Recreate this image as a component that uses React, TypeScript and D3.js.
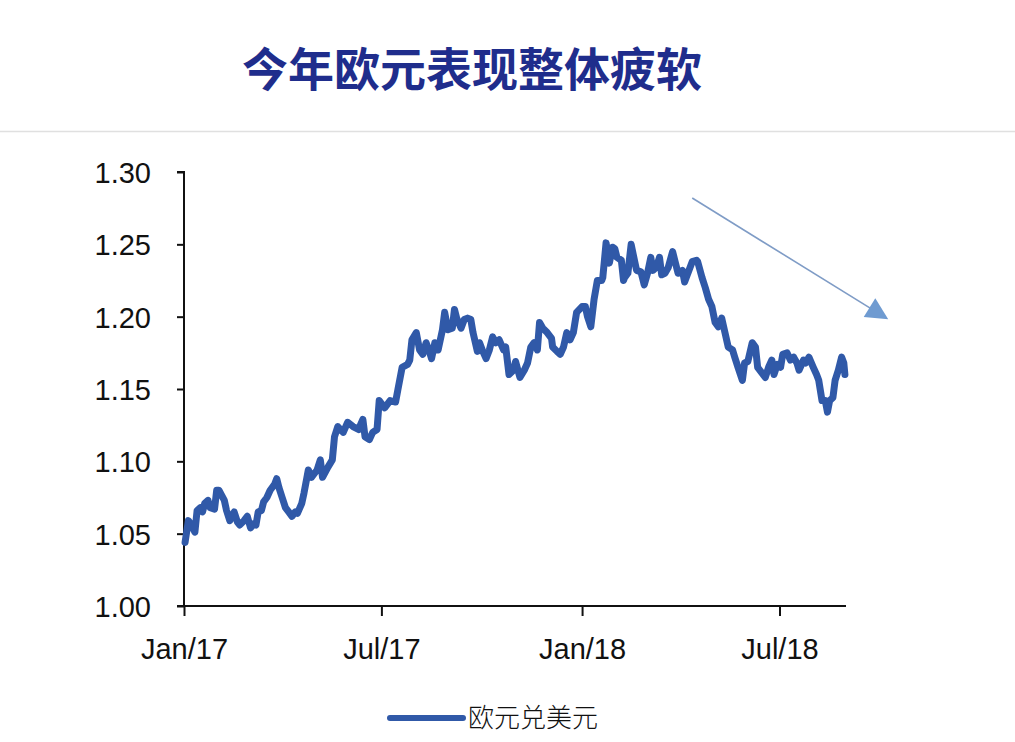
import React, { useEffect, useRef } from "react";
import * as d3 from "d3";

const title = "今年欧元表现整体疲软";
const seriesName = "欧元兑美元";
const yTicks = [1.0, 1.05, 1.1, 1.15, 1.2, 1.25, 1.3];
const xTickDates = ["2017-01-01", "2017-07-01", "2018-01-01", "2018-07-01"];
const xTickLabels = ["Jan/17", "Jul/17", "Jan/18", "Jul/18"];
const xDomain = ["2017-01-01", "2018-08-31"];
const yDomain = [1.0, 1.3];
const arrowFrom = { date: "2018-04-12", value: 1.282 };
const arrowTo = { date: "2018-10-07", value: 1.199 };

const dates = [
  "2017-01-02","2017-01-05","2017-01-07","2017-01-11","2017-01-13","2017-01-16","2017-01-18","2017-01-20","2017-01-23","2017-01-25",
  "2017-01-29","2017-01-31","2017-02-02","2017-02-07","2017-02-09","2017-02-12","2017-02-16","2017-02-19","2017-02-21","2017-02-25",
  "2017-02-28","2017-03-03","2017-03-06","2017-03-08","2017-03-10","2017-03-13","2017-03-15","2017-03-18","2017-03-21","2017-03-25",
  "2017-03-27","2017-03-29","2017-04-01","2017-04-04","2017-04-07","2017-04-10","2017-04-13","2017-04-15","2017-04-19","2017-04-21",
  "2017-04-25","2017-04-28","2017-05-03","2017-05-06","2017-05-08","2017-05-13","2017-05-17","2017-05-19","2017-05-22","2017-05-27",
  "2017-05-31","2017-06-05","2017-06-10","2017-06-14","2017-06-16","2017-06-20","2017-06-23","2017-06-27","2017-06-29","2017-07-04",
  "2017-07-09","2017-07-14","2017-07-16","2017-07-20","2017-07-25","2017-07-27","2017-07-29","2017-08-02","2017-08-05","2017-08-08",
  "2017-08-11","2017-08-14","2017-08-16","2017-08-19","2017-08-22","2017-08-26","2017-08-28","2017-08-31","2017-09-04","2017-09-06",
  "2017-09-08","2017-09-12","2017-09-15","2017-09-18","2017-09-21","2017-09-23","2017-09-27","2017-09-29","2017-10-02","2017-10-05",
  "2017-10-08","2017-10-11","2017-10-14","2017-10-17","2017-10-21","2017-10-23","2017-10-26","2017-10-30","2017-11-01","2017-11-05",
  "2017-11-09","2017-11-12","2017-11-15","2017-11-18","2017-11-21","2017-11-23","2017-11-26","2017-11-30","2017-12-04","2017-12-05",
  "2017-12-09","2017-12-12","2017-12-15","2017-12-18","2017-12-21","2017-12-24","2017-12-27","2018-01-01","2018-01-04","2018-01-06",
  "2018-01-09","2018-01-12","2018-01-15","2018-01-19","2018-01-20","2018-01-23","2018-01-26","2018-01-29","2018-01-31","2018-02-02",
  "2018-02-06","2018-02-08","2018-02-09","2018-02-12","2018-02-15","2018-02-18","2018-02-20","2018-02-24","2018-02-27","2018-03-02",
  "2018-03-05","2018-03-07","2018-03-10","2018-03-13","2018-03-15","2018-03-18","2018-03-21","2018-03-25","2018-03-27","2018-03-30",
  "2018-04-03","2018-04-05","2018-04-08","2018-04-12","2018-04-16","2018-04-17","2018-04-21","2018-04-24","2018-04-27","2018-04-30",
  "2018-05-03","2018-05-06","2018-05-09","2018-05-12","2018-05-15","2018-05-19","2018-05-21","2018-05-24","2018-05-28","2018-05-30",
  "2018-06-02","2018-06-06","2018-06-09","2018-06-11","2018-06-15","2018-06-18","2018-06-21","2018-06-24","2018-06-26","2018-06-29",
  "2018-07-02","2018-07-04","2018-07-08","2018-07-11","2018-07-14","2018-07-17","2018-07-19","2018-07-23","2018-07-25","2018-07-28",
  "2018-08-01","2018-08-04","2018-08-06","2018-08-09","2018-08-12","2018-08-14","2018-08-16","2018-08-19","2018-08-21","2018-08-24",
  "2018-08-27","2018-08-29","2018-08-30"
];

const eurusd = [
  1.044,1.059,1.057,1.051,1.066,1.068,1.065,1.071,1.073,1.068,
  1.067,1.080,1.080,1.073,1.066,1.059,1.065,1.058,1.056,1.059,
  1.062,1.054,1.057,1.056,1.065,1.066,1.072,1.075,1.080,1.084,
  1.088,1.082,1.075,1.068,1.065,1.062,1.065,1.064,1.071,1.078,
  1.094,1.089,1.094,1.101,1.089,1.096,1.101,1.117,1.124,1.120,
  1.127,1.124,1.122,1.129,1.117,1.115,1.120,1.122,1.142,1.137,
  1.142,1.141,1.149,1.165,1.167,1.170,1.184,1.189,1.177,1.174,
  1.182,1.176,1.171,1.182,1.177,1.191,1.203,1.191,1.192,1.205,
  1.199,1.192,1.198,1.199,1.198,1.189,1.176,1.182,1.176,1.171,
  1.177,1.186,1.182,1.184,1.177,1.179,1.160,1.163,1.169,1.158,
  1.163,1.168,1.179,1.182,1.177,1.196,1.192,1.189,1.185,1.179,
  1.176,1.174,1.179,1.189,1.184,1.189,1.203,1.207,1.207,1.200,
  1.193,1.212,1.225,1.225,1.227,1.251,1.237,1.248,1.247,1.241,
  1.239,1.225,1.227,1.230,1.250,1.239,1.232,1.231,1.222,1.230,
  1.241,1.232,1.234,1.241,1.229,1.230,1.234,1.245,1.239,1.230,
  1.232,1.224,1.230,1.238,1.239,1.238,1.227,1.220,1.212,1.207,
  1.196,1.193,1.199,1.189,1.179,1.177,1.172,1.165,1.156,1.168,
  1.169,1.182,1.179,1.165,1.161,1.158,1.165,1.170,1.160,1.167,
  1.165,1.174,1.175,1.170,1.172,1.168,1.163,1.170,1.168,1.172,
  1.165,1.160,1.156,1.142,1.142,1.134,1.142,1.144,1.156,1.163,
  1.172,1.168,1.160
];

const W = 1015;
const H = 742;
const M = { left: 184, right: 846, top: 172, bottom: 606 };
const LINE_COLOR = "#3059a8";
const TITLE_COLOR = "#1f2d8c";
const AXIS_FONT = "'Liberation Sans Narrow', 'Liberation Sans', Arial, sans-serif";

export default function App() {
  const ref = useRef<SVGSVGElement | null>(null);

  useEffect(() => {
    document.body.style.margin = "0";
    const svg = d3.select(ref.current);
    svg.selectAll("*").remove();
    const parse = d3.timeParse("%Y-%m-%d");

    const x = d3.scaleTime()
      .domain(xDomain.map((d) => parse(d) as Date))
      .range([M.left, M.right]);
    const y = d3.scaleLinear().domain(yDomain).range([M.bottom, M.top]);

    svg.append("rect").attr("width", W).attr("height", H).attr("fill", "#fff");

    // Title
    svg.append("text")
      .attr("x", 472)
      .attr("y", 86)
      .attr("text-anchor", "middle")
      .attr("font-family", "'Noto Sans CJK SC', sans-serif")
      .attr("font-weight", 700)
      .attr("font-size", 46)
      .attr("fill", TITLE_COLOR)
      .text(title);

    // separator
    svg.append("line")
      .attr("x1", 0).attr("x2", W)
      .attr("y1", 131.5).attr("y2", 131.5)
      .attr("stroke", "#e0e0e0").attr("stroke-width", 1.5);

    // Y axis
    const yAxis = d3.axisLeft(y)
      .tickValues(yTicks)
      .tickFormat((d) => d3.format(".2f")(d as number))
      .tickSize(7)
      .tickPadding(26);
    const gy = svg.append("g").attr("transform", `translate(${M.left},0)`).call(yAxis);
    gy.select(".domain").attr("stroke", "#111").attr("stroke-width", 2).attr("d", `M-7,${M.top}H0V${M.bottom}H-7`);
    gy.selectAll(".tick line").attr("stroke", "#111").attr("stroke-width", 2);
    gy.selectAll(".tick text")
      .attr("font-family", AXIS_FONT)
      .attr("font-size", 29)
      .attr("fill", "#111")
      .attr("dy", "0.36em");

    // X axis
    const xAxis = d3.axisBottom(x)
      .tickValues(xTickDates.map((d) => parse(d) as Date))
      .tickFormat((_, i) => xTickLabels[i])
      .tickSize(10)
      .tickPadding(22);
    const gx = svg.append("g").attr("transform", `translate(0,${M.bottom})`).call(xAxis);
    gx.select(".domain").attr("stroke", "#111").attr("stroke-width", 2).attr("d", `M${M.left},0H${M.right}`);
    gx.selectAll(".tick line").attr("stroke", "#111").attr("stroke-width", 2);
    gx.selectAll(".tick text")
      .attr("font-family", AXIS_FONT)
      .attr("font-size", 29)
      .attr("fill", "#111")
      .attr("dy", "0.71em");

    // Series
    const data = dates.map((d, i) => ({ date: parse(d) as Date, value: eurusd[i] }));
    const line = d3.line<{ date: Date; value: number }>()
      .x((d) => x(d.date))
      .y((d) => y(d.value))
      .curve(d3.curveLinear);
    svg.append("path")
      .datum(data)
      .attr("d", line)
      .attr("fill", "none")
      .attr("stroke", LINE_COLOR)
      .attr("stroke-width", 7)
      .attr("stroke-linejoin", "round")
      .attr("stroke-linecap", "round");

    // Annotation arrow
    const defs = svg.append("defs");
    defs.append("marker")
      .attr("id", "arrowHead")
      .attr("viewBox", "0 0 10 10")
      .attr("refX", 9)
      .attr("refY", 5)
      .attr("markerUnits", "userSpaceOnUse")
      .attr("markerWidth", 28)
      .attr("markerHeight", 22)
      .attr("orient", "auto")
      .append("path")
      .attr("d", "M0,0L10,5L0,10Z")
      .attr("fill", "#6f9bd1");
    svg.append("line")
      .attr("x1", x(parse(arrowFrom.date) as Date))
      .attr("y1", y(arrowFrom.value))
      .attr("x2", x(parse(arrowTo.date) as Date))
      .attr("y2", y(arrowTo.value))
      .attr("stroke", "#7f9cc6")
      .attr("stroke-width", 1.6)
      .attr("marker-end", "url(#arrowHead)");

    // Legend
    const lg = svg.append("g").attr("transform", "translate(390,718)");
    lg.append("line")
      .attr("x1", 0).attr("x2", 73).attr("y1", 0).attr("y2", 0)
      .attr("stroke", LINE_COLOR).attr("stroke-width", 6).attr("stroke-linecap", "round");
    lg.append("text")
      .attr("x", 78)
      .attr("y", 9)
      .attr("font-family", "'Noto Sans CJK SC', sans-serif")
      .attr("font-weight", 300)
      .attr("font-size", 26)
      .attr("fill", "#111")
      .text(seriesName);
  }, []);

  return <svg ref={ref} width={W} height={H} style={{ display: "block" }} />;
}
